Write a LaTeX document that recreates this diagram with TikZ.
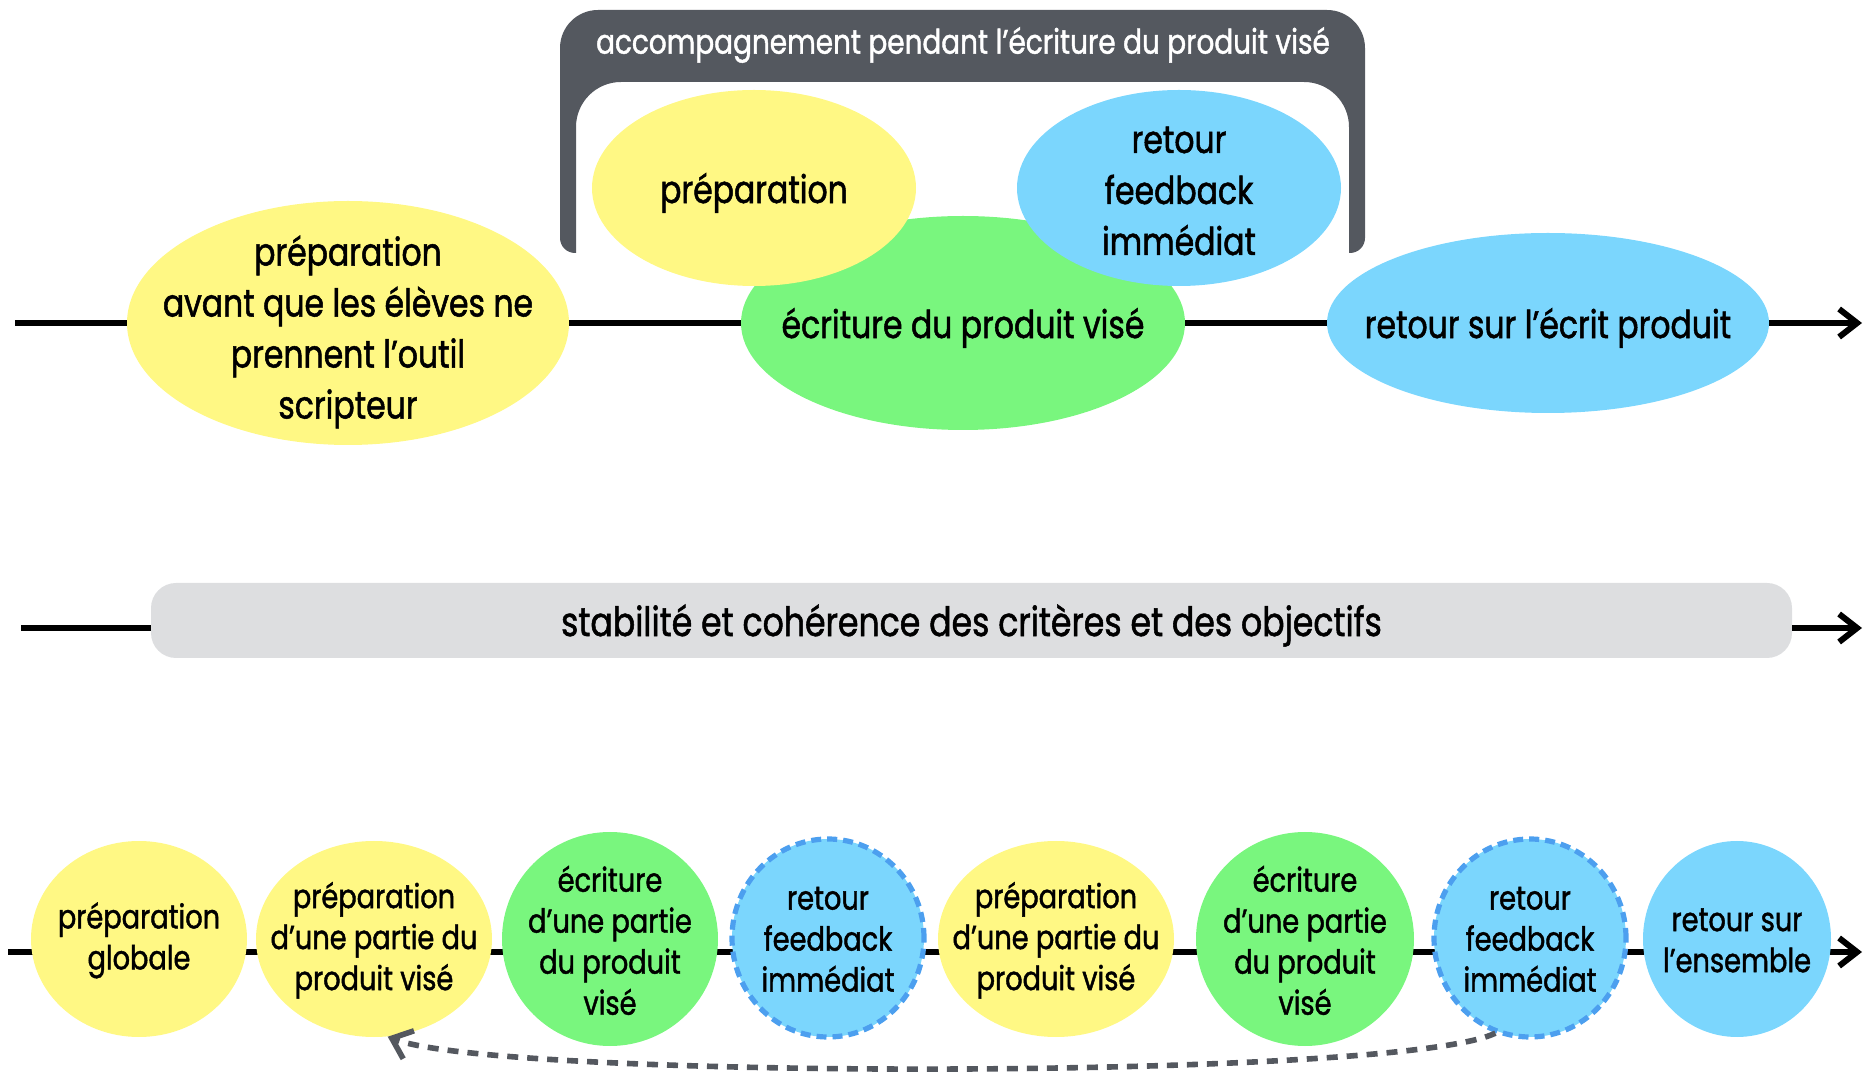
\documentclass[tikz,border=0pt]{standalone}
\usepackage{fontspec}
\setmainfont{Poppins}[FakeStretch=0.82,FakeBold=1.3]
\usetikzlibrary{shapes.geometric,arrows.meta}
\pgfdeclarelayer{bg}
\pgfsetlayers{bg,main}
\definecolor{yel}{HTML}{FFF884}
\definecolor{grn}{HTML}{79F67E}
\definecolor{blu}{HTML}{7BD6FD}
\definecolor{dbl}{HTML}{4C9FEF}
\definecolor{dgr}{HTML}{54585F}
\definecolor{lgr}{HTML}{DDDEE0}
\begin{document}
\begin{tikzpicture}[x=0.5pt,y=0.5pt,
  ell/.style 2 args={ellipse,inner sep=0pt,minimum width=#1,minimum height=#2},
  tx/.style={align=center,font=\fontsize{19.2}{25.5}\selectfont,text=black,yshift=-2.5pt},
  sx/.style={align=center,font=\fontsize{16.6}{20.5}\selectfont,text=black,yshift=-0.7pt},
  tl/.style={line width=3pt,draw=black},
  arr/.style={-{Straight Barb[length=9pt,width=14pt,line width=3pt]}},
  dsh/.style={draw=dbl,line width=2.6pt,dash pattern=on 5pt off 3pt},
  fb/.style={draw=dgr,line width=2.8pt,dash pattern=on 5.5pt off 4.5pt,-{Straight Barb[length=9pt,width=15pt,line width=2.8pt]}}]
\useasboundingbox (0,0) rectangle (1865,1072);

% ---------- top row ----------
\fill[dgr] (576,819) -- (576,945) arc[start angle=180,end angle=90,radius=22.5pt]
  -- (1304,990) arc[start angle=90,end angle=0,radius=22.5pt]
  -- (1349,819) -- (1350,819) arc[start angle=270,end angle=360,radius=7.5pt]
  -- (1365,1024) arc[start angle=0,end angle=90,radius=19pt]
  -- (598,1062) arc[start angle=90,end angle=180,radius=19pt]
  -- (560,834) arc[start angle=180,end angle=270,radius=7.5pt] -- cycle;
\node[text=white,font=\fontsize{17}{18}\selectfont,yshift=-0.5pt] (hd) at (963,1028) {accompagnement pendant l’écriture du produit visé};

\coordinate (s1) at (15,749);
\coordinate (e1) at (1862,749);
\node[ell={221pt}{122pt},fill=yel,label={[tx,yshift=-2pt]center:{préparation\\avant que les élèves ne\\prennent l’outil\\scripteur}}] (pA) at (348,749) {};
\node[ell={222pt}{107pt},fill=grn,label={[tx]center:{écriture du produit visé}}] (ec) at (963,749) {};
\node[ell={162pt}{98pt},fill=yel,label={[tx]center:{préparation}}] (pB) at (754,884) {};
\node[ell={162pt}{98pt},fill=blu,label={[tx,yshift=1pt]center:{retour\\feedback\\immédiat}}] (rf) at (1179,884) {};
\node[ell={221pt}{90pt},fill=blu,label={[tx]center:{retour sur l’écrit produit}}] (rs) at (1548,749) {};

% ---------- middle row ----------
\coordinate (s2) at (21,444);
\coordinate (e2) at (1862,444);
\node[rectangle,rounded corners=12.5pt,fill=lgr,minimum width=820.5pt,minimum height=37.5pt,inner sep=0pt] (st) at (971.5,451.5) {};
\node[tx,font=\fontsize{20.2}{25.5}\selectfont] (stt) at (st) {stabilité et cohérence des critères et des objectifs};
\draw[tl] (s2) -- (s2 -| st.west);
\draw[tl,arr] (s2 -| st.east) -- (e2);

% ---------- bottom row ----------
\coordinate (s3) at (8,120);
\coordinate (e3) at (1862,120);
\node[ell={108pt}{98pt},fill=yel,label={[sx]center:{préparation\\globale}}] (b1) at (139,133) {};
\node[ell={118pt}{98pt},fill=yel,label={[sx]center:{préparation\\d’une partie du\\produit visé}}] (b2) at (374,133) {};
\node[ell={108pt}{107pt},fill=grn,label={[sx]center:{écriture\\d’une partie\\du produit\\visé}}] (b3) at (610,133) {};
\node[ell={96pt}{99pt},fill=blu,dsh,label={[sx]center:{retour\\feedback\\immédiat}}] (b4) at (828,134) {};
\node[ell={118pt}{98pt},fill=yel,label={[sx]center:{préparation\\d’une partie du\\produit visé}}] (b5) at (1056,133) {};
\node[ell={109pt}{107pt},fill=grn,label={[sx]center:{écriture\\d’une partie\\du produit\\visé}}] (b6) at (1305,133) {};
\node[ell={96pt}{99pt},fill=blu,dsh,label={[sx]center:{retour\\feedback\\immédiat}}] (b7) at (1530,134) {};
\node[ell={94pt}{98pt},fill=blu,label={[sx]center:{retour sur\\l’ensemble}}] (b8) at (1737,133) {};

\draw[fb] (b7.-110) .. controls (1400,-8) and (500,-8) .. (b2.-82);

\begin{pgfonlayer}{bg}
\draw[tl] (s1) -- (pA);
\draw[tl] (pA) -- (ec);
\draw[tl] (ec) -- (rs);
\draw[tl,arr] (rs) -- (e1);
\draw[tl,arr] (s3) -- (e3);
\end{pgfonlayer}
\end{tikzpicture}
\end{document}
